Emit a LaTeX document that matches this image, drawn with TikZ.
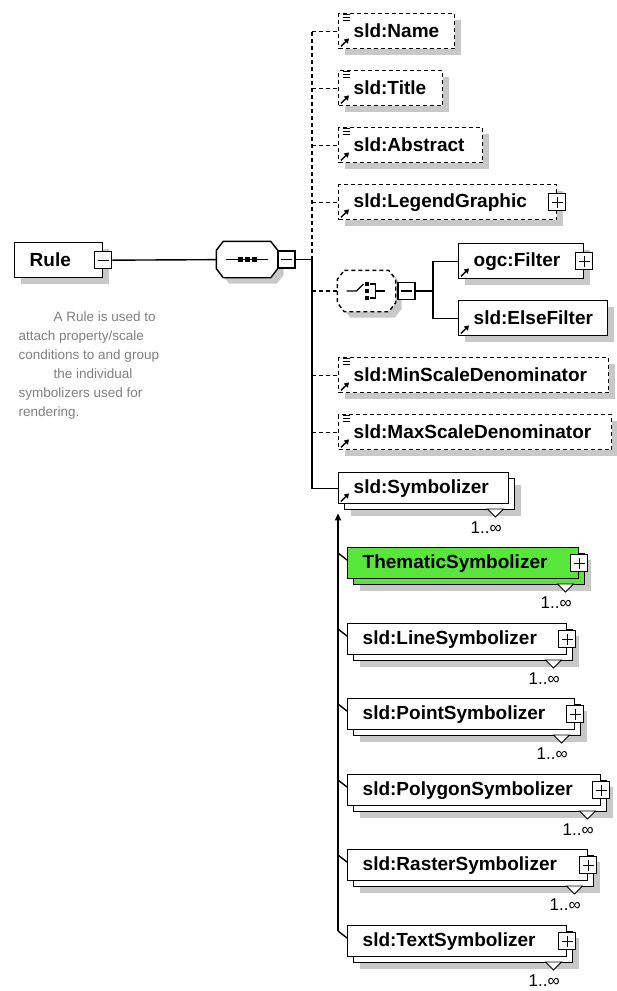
\documentclass[tikz,border=0pt]{standalone}
\usepackage{fontspec}
\setmainfont{Liberation Sans}
\usepackage{xcolor}
\usepackage{tikz}
\usetikzlibrary{positioning, arrows.meta, shadows}

\definecolor{shadowgray}{RGB}{200,200,200}
\definecolor{themegreen}{RGB}{88,230,58}
\definecolor{docgray}{RGB}{128,128,128}

\hyphenpenalty=10000
\exhyphenpenalty=10000

% octagon outline round an empty compositor node
\newcommand{\octpath}[1]{([xshift=7pt]#1.north west) -- ([xshift=-7pt]#1.north east) -- ([yshift=-9pt]#1.north east) -- ([yshift=9pt]#1.south east) -- ([xshift=-7pt]#1.south east) -- ([xshift=7pt]#1.south west) -- ([yshift=9pt]#1.south west) -- ([yshift=-9pt]#1.north west) -- cycle}

\begin{document}
\begin{tikzpicture}[
    x=1pt, y=-1pt,
    line width=1.4pt,
    elem/.style={rectangle, draw, fill=white, anchor=north west, inner xsep=15pt, inner ysep=0pt, minimum height=35pt, align=left, font=\bfseries\fontsize{19}{22}\selectfont},
    opt/.style={elem, dash pattern=on 4pt off 3pt},
    shade/.style={drop shadow={shadow xshift=6pt, shadow yshift=-6pt, fill=shadowgray, opacity=1, draw=none}},
    multi/.style={elem, minimum height=31pt, drop shadow={shadow xshift=12pt, shadow yshift=-12pt, fill=shadowgray, opacity=1, draw=none}, general shadow={shadow xshift=6pt, shadow yshift=-6pt, fill=#1, draw=black}},
    multi/.default=white,
    pm/.style={rectangle, draw, fill=white, minimum size=17pt, inner sep=0pt, line width=1.1pt},
    minus/.style={pm, path picture={\draw[line width=1.1pt] ([xshift=3pt]path picture bounding box.west) -- ([xshift=-3pt]path picture bounding box.east);}},
    plus/.style={pm, path picture={\draw[line width=1.1pt] ([xshift=3pt]path picture bounding box.west) -- ([xshift=-3pt]path picture bounding box.east); \draw[line width=1.1pt] ([yshift=-3pt]path picture bounding box.north) -- ([yshift=3pt]path picture bounding box.south);}},
    comp/.style={rectangle, minimum width=60pt, minimum height=35pt, inner sep=0pt},
    card/.style={anchor=east, inner sep=0pt, font=\fontsize{17}{19}\selectfont},
    optline/.style={dash pattern=on 4pt off 3pt},
    refarrow/.style={line width=1.5pt, -{Triangle[length=4.5pt, width=5.5pt]}}
]
\useasboundingbox (0,0) rectangle (617,991);

% Rule and its sequence
\node[elem, shade, text width=58pt] (rule) at (14,242) {Rule};
\node[minus] (rulem) at (rule.east) {};
\node[anchor=north west, inner sep=0pt, align=left, text=docgray, font=\fontsize{13.5}{19}\selectfont] (doc) at (18,311) {\hspace*{35pt}A Rule is used to\\attach property/scale\\conditions to and group\\\hspace*{35pt}the individual\\symbolizers used for\\rendering.};

\node[comp] (seq) at (247,259.5) {};
\fill[shadowgray, transform canvas={shift={(6pt,-6pt)}}] \octpath{seq};
\draw[fill=white] \octpath{seq};
\draw ([xshift=10pt]seq.west) -- ([xshift=-10pt]seq.east);
\foreach \d in {-7,0,7}
  \fill ([xshift=\d pt]seq.center) +(-2.5,-2.5) rectangle +(2.5,2.5);
\node[minus] (seqm) at (286.5,259.5) {};

% Optional children
\node[opt, shade, text width=86pt] (name) at (338,13) {sld:Name};
\node[opt, shade, text width=74pt] (title) at (338,70) {sld:Title};
\node[opt, shade, text width=114pt] (abstract) at (338,127) {sld:Abstract};
\node[opt, shade, text width=188pt] (legend) at (338,184) {sld:LegendGraphic};
\node[plus] (legendp) at (legend.east) {};

% Choice of filters
\node[comp, minimum width=57pt, minimum height=40pt] (choice) at (366.5,291) {};
\fill[shadowgray, transform canvas={shift={(6pt,-6pt)}}] \octpath{choice};
\draw[fill=white, optline] \octpath{choice};
\begin{scope}[shift={(choice.center)}, line width=1.2pt]
  \draw (-20,0) -- (-10,0) -- (-3,-7);
  \foreach \dy in {-7,0,7}
    \fill (0.5,\dy) +(-2,-2) rectangle +(2,2);
  \draw (3,-7) -- (9,-7) -- (9,7) -- (3,7);
  \draw (9,0) -- (18,0);
\end{scope}
\node[minus] (choicem) at (406.5,291) {};
\coordinate (fork) at (433,291);
\node[elem, shade, text width=95pt] (filter) at (458,243) {ogc:Filter};
\node[plus] (filterp) at (filter.east) {};
\node[elem, shade, text width=119pt] (elsefilter) at (458,300) {sld:ElseFilter};

\node[opt, shade, text width=240pt] (minscale) at (338,357) {sld:MinScaleDenominator};
\node[opt, shade, text width=243pt] (maxscale) at (338,414) {sld:MaxScaleDenominator};

% Symbolizer and its substitution group
\node[multi, text width=140pt] (symbolizer) at (338,472) {sld:Symbolizer};
\node[multi=themegreen, fill=themegreen, text width=201pt] (thematic) at (347,547) {ThematicSymbolizer};
\node[multi, text width=189pt] (line) at (347,623) {sld:LineSymbolizer};
\node[multi, text width=197pt] (point) at (347,698) {sld:PointSymbolizer};
\node[multi, text width=223pt] (polygon) at (347,774) {sld:PolygonSymbolizer};
\node[multi, text width=210pt] (raster) at (347,849) {sld:RasterSymbolizer};
\node[multi, text width=189pt] (textsym) at (347,925) {sld:TextSymbolizer};

\foreach \nm in {symbolizer, thematic, line, point, polygon, raster, textsym} {
  \draw[fill=white, line width=0.9pt] ([shift={(-22,37)}]\nm.north east) -- ([shift={(-6,37)}]\nm.north east) -- ([shift={(-14,45)}]\nm.north east) -- cycle;
  \node[card] (\nm-card) at ([shift={(-7,56)}]\nm.north east) {1..∞};
}
\foreach \nm in {thematic, line, point, polygon, raster, textsym} {
  \node[plus] (\nm-p) at (\nm.east) {};
  \draw ([shift={(-9,6)}]\nm.north west) -- ([shift={(0,13)}]\nm.north west);
}
\coordinate (subbot) at ([shift={(-9,6)}]textsym.north west);
\coordinate (subtop) at ([shift={(0,9)}]symbolizer.south west);
\draw[-{Triangle[length=7pt, width=6pt]}] (subbot) -- (subtop);

% Icons
\foreach \nm in {name, title, abstract, legend, filter, elsefilter, minscale, maxscale, symbolizer}
  \draw[refarrow] ([shift={(3,-3)}]\nm.south west) -- ++(8,-8);
\foreach \nm in {name, title, abstract, minscale, maxscale}
  \foreach \k in {1,4,7}
    \draw[line width=0.9pt] ([shift={(5,\k)}]\nm.north west) -- ++(7,0);

% Connectors
\coordinate (trunk) at (312,259.5);
\draw (rulem) -- (seq);
\draw (seqm) -- (trunk) |- (symbolizer.west);
\draw[optline] (trunk) -- (trunk |- name.west);
\foreach \nm in {name, title, abstract, legend, choice, minscale, maxscale}
  \draw[optline] (trunk |- \nm.west) -- (\nm.west);
\draw (choicem) -- (fork);
\draw (filter.west) -| (fork) |- (elsefilter.west);

\end{tikzpicture}
\end{document}
